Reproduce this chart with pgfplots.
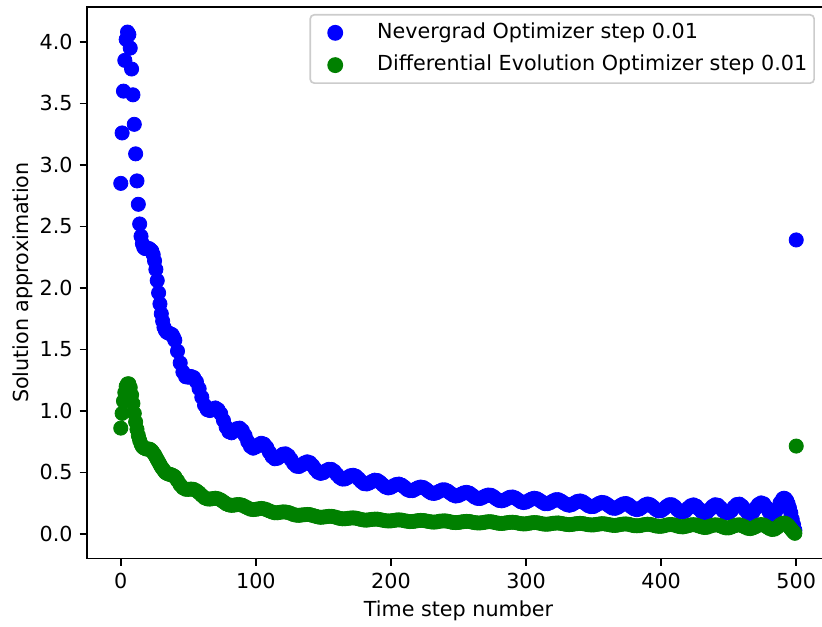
\documentclass[border=0pt]{standalone}
\usepackage{fontspec}
\setmainfont{DejaVu Sans}
\usepackage{pgfplots}
\usepackage{pgfplotstable}
\pgfplotsset{compat=1.18}
\definecolor{mplblue}{RGB}{0,0,255}
\definecolor{mplgreen}{RGB}{0,128,0}
\definecolor{legframe}{RGB}{204,204,204}
\newcommand\mf{\fontsize{10.35pt}{12.4pt}\selectfont}

\pgfplotstableread[row sep=\\]{
t y\\
0 2.85\\ 1 3.26\\ 2 3.60\\ 3 3.85\\ 4 4.02\\ 5 4.08\\ 6 4.06\\ 7 3.95\\ 8 3.78\\ 9 3.57\\
10 3.33\\ 11 3.09\\ 12 2.87\\ 13 2.68\\ 14 2.52\\ 15 2.42\\ 16 2.36\\ 17 2.33\\ 18 2.32\\ 19 2.32\\
20 2.32\\ 21 2.32\\ 22 2.31\\ 23 2.30\\ 24 2.27\\ 25 2.22\\ 26 2.15\\ 27 2.06\\ 28 1.96\\ 29 1.87\\
30 1.79\\ 31 1.73\\ 32 1.68\\ 33 1.655\\ 34 1.64\\ 35 1.635\\ 36 1.63\\ 37 1.625\\ 38 1.62\\ 39 1.60\\
40 1.575\\ 42 1.486\\ 44 1.390\\ 46 1.316\\ 48 1.278\\ 50 1.274\\ 52 1.280\\ 54 1.271\\ 56 1.237\\ 58 1.181\\
60 1.111\\ 62 1.047\\ 64 1.010\\ 66 1.003\\ 68 1.015\\ 70 1.024\\ 72 1.010\\ 74 0.977\\ 76 0.923\\ 78 0.868\\
80 0.831\\ 82 0.822\\ 84 0.837\\ 86 0.856\\ 88 0.860\\ 90 0.840\\ 92 0.800\\ 94 0.750\\ 96 0.712\\ 98 0.697\\
100 0.707\\ 102 0.725\\ 104 0.737\\ 106 0.730\\ 108 0.704\\ 110 0.664\\ 112 0.629\\ 114 0.611\\ 116 0.615\\ 118 0.631\\
120 0.648\\ 122 0.651\\ 124 0.636\\ 126 0.605\\ 128 0.572\\ 130 0.551\\ 132 0.548\\ 134 0.560\\ 136 0.577\\ 138 0.586\\
140 0.579\\ 142 0.556\\ 144 0.526\\ 146 0.501\\ 148 0.492\\ 150 0.498\\ 152 0.514\\ 154 0.525\\ 156 0.524\\ 158 0.509\\
160 0.483\\ 162 0.460\\ 164 0.446\\ 166 0.447\\ 168 0.459\\ 170 0.473\\ 172 0.477\\ 174 0.469\\ 176 0.449\\ 178 0.426\\
180 0.409\\ 182 0.406\\ 184 0.414\\ 186 0.427\\ 188 0.437\\ 190 0.434\\ 192 0.419\\ 194 0.399\\ 196 0.381\\ 198 0.374\\
200 0.379\\ 202 0.392\\ 204 0.402\\ 206 0.405\\ 208 0.396\\ 210 0.380\\ 212 0.361\\ 214 0.352\\ 216 0.352\\ 218 0.363\\
220 0.375\\ 222 0.381\\ 224 0.377\\ 226 0.363\\ 228 0.345\\ 230 0.332\\ 232 0.329\\ 234 0.336\\ 236 0.348\\ 238 0.358\\
240 0.358\\ 242 0.348\\ 244 0.331\\ 246 0.316\\ 248 0.308\\ 250 0.312\\ 252 0.323\\ 254 0.334\\ 256 0.338\\ 258 0.332\\
260 0.316\\ 262 0.299\\ 264 0.289\\ 266 0.288\\ 268 0.297\\ 270 0.309\\ 272 0.316\\ 274 0.314\\ 276 0.302\\ 278 0.285\\
280 0.272\\ 282 0.269\\ 284 0.275\\ 286 0.287\\ 288 0.298\\ 290 0.300\\ 292 0.292\\ 294 0.277\\ 296 0.262\\ 298 0.255\\
300 0.259\\ 302 0.271\\ 304 0.283\\ 306 0.290\\ 308 0.286\\ 310 0.273\\ 312 0.258\\ 314 0.246\\ 316 0.246\\ 318 0.255\\
320 0.268\\ 322 0.278\\ 324 0.278\\ 326 0.267\\ 328 0.252\\ 330 0.239\\ 332 0.233\\ 334 0.239\\ 336 0.252\\ 338 0.264\\
340 0.268\\ 342 0.261\\ 344 0.246\\ 346 0.230\\ 348 0.222\\ 350 0.223\\ 352 0.235\\ 354 0.248\\ 356 0.256\\ 358 0.253\\
360 0.240\\ 362 0.224\\ 364 0.210\\ 366 0.208\\ 368 0.217\\ 370 0.232\\ 372 0.244\\ 374 0.247\\ 376 0.237\\ 378 0.219\\
380 0.204\\ 382 0.197\\ 384 0.203\\ 386 0.218\\ 388 0.235\\ 390 0.243\\ 392 0.237\\ 394 0.220\\ 396 0.200\\ 398 0.187\\
400 0.189\\ 402 0.204\\ 404 0.223\\ 406 0.237\\ 408 0.237\\ 410 0.222\\ 412 0.198\\ 414 0.181\\ 416 0.176\\ 418 0.188\\
420 0.210\\ 422 0.229\\ 424 0.236\\ 426 0.226\\ 428 0.203\\ 430 0.181\\ 432 0.170\\ 434 0.177\\ 436 0.199\\ 438 0.223\\
440 0.237\\ 442 0.233\\ 444 0.212\\ 446 0.187\\ 448 0.170\\ 450 0.171\\ 452 0.190\\ 454 0.218\\ 456 0.239\\ 458 0.242\\
460 0.225\\ 462 0.198\\ 464 0.173\\ 466 0.165\\ 468 0.179\\ 470 0.210\\ 472 0.239\\ 474 0.252\\ 476 0.244\\ 478 0.214\\
480 0.178\\ 482 0.157\\ 484 0.166\\ 486 0.203\\ 488 0.252\\ 490 0.285\\ 491 0.290\\ 492 0.285\\ 493 0.270\\ 494 0.245\\
495 0.210\\ 496 0.170\\ 497 0.120\\ 498 0.075\\ 499 0.030\\ 500 2.39\\
}\bluedata

\pgfplotstableread[row sep=\\]{
t y\\
0 0.86\\ 1 0.98\\ 2 1.08\\ 3 1.15\\ 4 1.20\\ 5 1.22\\ 6 1.22\\ 7 1.19\\ 8 1.13\\ 9 1.06\\
10 0.98\\ 11 0.91\\ 12 0.85\\ 13 0.80\\ 14 0.76\\ 15 0.73\\ 16 0.71\\ 17 0.70\\ 18 0.695\\ 19 0.69\\
20 0.69\\ 21 0.69\\ 22 0.685\\ 23 0.675\\ 24 0.66\\ 25 0.645\\ 26 0.625\\ 27 0.605\\ 28 0.585\\ 29 0.565\\
30 0.545\\ 31 0.53\\ 32 0.515\\ 33 0.50\\ 34 0.493\\ 35 0.488\\ 36 0.485\\ 37 0.482\\ 38 0.478\\ 39 0.472\\
40 0.465\\ 42 0.433\\ 44 0.399\\ 46 0.375\\ 48 0.363\\ 50 0.362\\ 52 0.365\\ 54 0.362\\ 56 0.351\\ 58 0.334\\
60 0.313\\ 62 0.294\\ 64 0.285\\ 66 0.283\\ 68 0.287\\ 70 0.290\\ 72 0.286\\ 74 0.276\\ 76 0.261\\ 78 0.245\\
80 0.236\\ 82 0.232\\ 84 0.234\\ 86 0.238\\ 88 0.238\\ 90 0.233\\ 92 0.222\\ 94 0.211\\ 96 0.201\\ 98 0.198\\
100 0.200\\ 102 0.204\\ 104 0.207\\ 106 0.204\\ 108 0.197\\ 110 0.187\\ 112 0.178\\ 114 0.172\\ 116 0.172\\ 118 0.176\\
120 0.179\\ 122 0.178\\ 124 0.174\\ 126 0.166\\ 128 0.157\\ 130 0.152\\ 132 0.151\\ 134 0.154\\ 136 0.156\\ 138 0.158\\
140 0.157\\ 142 0.150\\ 144 0.144\\ 146 0.138\\ 148 0.135\\ 150 0.137\\ 152 0.140\\ 154 0.143\\ 156 0.143\\ 158 0.139\\
160 0.133\\ 162 0.126\\ 164 0.123\\ 166 0.123\\ 168 0.126\\ 170 0.129\\ 172 0.130\\ 174 0.128\\ 176 0.123\\ 178 0.117\\
180 0.113\\ 182 0.112\\ 184 0.115\\ 186 0.118\\ 188 0.120\\ 190 0.120\\ 192 0.116\\ 194 0.111\\ 196 0.107\\ 198 0.105\\
200 0.106\\ 202 0.109\\ 204 0.113\\ 206 0.114\\ 208 0.112\\ 210 0.107\\ 212 0.103\\ 214 0.100\\ 216 0.101\\ 218 0.104\\
220 0.108\\ 222 0.110\\ 224 0.109\\ 226 0.105\\ 228 0.101\\ 230 0.097\\ 232 0.096\\ 234 0.098\\ 236 0.103\\ 238 0.105\\
240 0.106\\ 242 0.103\\ 244 0.098\\ 246 0.093\\ 248 0.092\\ 250 0.093\\ 252 0.097\\ 254 0.100\\ 256 0.102\\ 258 0.101\\
260 0.096\\ 262 0.092\\ 264 0.089\\ 266 0.089\\ 268 0.092\\ 270 0.096\\ 272 0.099\\ 274 0.099\\ 276 0.095\\ 278 0.090\\
280 0.086\\ 282 0.085\\ 284 0.087\\ 286 0.091\\ 288 0.094\\ 290 0.095\\ 292 0.093\\ 294 0.088\\ 296 0.084\\ 298 0.081\\
300 0.082\\ 302 0.086\\ 304 0.090\\ 306 0.092\\ 308 0.091\\ 310 0.087\\ 312 0.082\\ 314 0.079\\ 316 0.079\\ 318 0.082\\
320 0.086\\ 322 0.088\\ 324 0.089\\ 326 0.085\\ 328 0.081\\ 330 0.077\\ 332 0.075\\ 334 0.077\\ 336 0.081\\ 338 0.084\\
340 0.086\\ 342 0.084\\ 344 0.079\\ 346 0.075\\ 348 0.073\\ 350 0.073\\ 352 0.077\\ 354 0.080\\ 356 0.083\\ 358 0.082\\
360 0.078\\ 362 0.074\\ 364 0.070\\ 366 0.069\\ 368 0.072\\ 370 0.077\\ 372 0.080\\ 374 0.081\\ 376 0.078\\ 378 0.072\\
380 0.067\\ 382 0.066\\ 384 0.067\\ 386 0.072\\ 388 0.076\\ 390 0.079\\ 392 0.077\\ 394 0.071\\ 396 0.065\\ 398 0.062\\
400 0.062\\ 402 0.066\\ 404 0.072\\ 406 0.076\\ 408 0.076\\ 410 0.071\\ 412 0.064\\ 414 0.059\\ 416 0.057\\ 418 0.061\\
420 0.067\\ 422 0.073\\ 424 0.075\\ 426 0.072\\ 428 0.064\\ 430 0.057\\ 432 0.052\\ 434 0.054\\ 436 0.062\\ 438 0.069\\
440 0.074\\ 442 0.072\\ 444 0.065\\ 446 0.055\\ 448 0.049\\ 450 0.049\\ 452 0.056\\ 454 0.065\\ 456 0.072\\ 458 0.074\\
460 0.067\\ 462 0.056\\ 464 0.046\\ 466 0.043\\ 468 0.049\\ 470 0.059\\ 472 0.071\\ 474 0.076\\ 476 0.072\\ 478 0.059\\
480 0.045\\ 482 0.036\\ 484 0.039\\ 486 0.054\\ 488 0.074\\ 490 0.086\\ 491 0.088\\ 492 0.085\\ 493 0.078\\ 494 0.068\\
495 0.055\\ 496 0.042\\ 497 0.028\\ 498 0.015\\ 499 0.005\\ 500 0.714\\
}\greendata

\begin{document}
\begin{tikzpicture}
\begin{axis}[
  at={(0pt,0pt)}, anchor=south west,
  scale only axis, width=371.5pt, height=275.75pt,
  xmin=-25, xmax=525, ymin=-0.2, ymax=4.284,
  axis line style={line width=0.83pt},
  tick align=outside, major tick length=3.64pt,
  every tick/.style={black, line width=0.83pt},
  xtick={0,100,200,300,400,500},
  ytick={0,0.5,1,1.5,2,2.5,3,3.5,4},
  xtick pos=left, ytick pos=left,
  /pgf/number format/assume math mode=true,
  yticklabel style={/pgf/number format/.cd, fixed, fixed zerofill, precision=1},
  tick label style={font=\mf},
  xlabel={Time step number},
  ylabel={Solution approximation},
  label style={font=\mf},
  xlabel style={at={(axis description cs:0.5,-0.1043)}, anchor=base},
  ylabel style={at={(axis description cs:-0.0794,0.5)}, anchor=base},
  legend style={at={(axis description cs:0.9798,0.9873)}, anchor=north east,
    draw=legframe, line width=0.83pt, rounded corners=2pt, fill=white,
    font=\mf, inner xsep=3.5pt, inner ysep=4pt, row sep=6.15pt,
    nodes={inner sep=0pt, text height=0.76em, text depth=0.24em},
    cells={anchor=west}},
  legend image code/.code={%
    \path[draw=none] (0pt,0pt) -- (30pt,0pt);
    \path[#1, draw=none, only marks, mark repeat=2, mark phase=2] plot coordinates {(0pt,0pt) (9pt,0pt) (18pt,0pt)};},
]
\addplot[only marks, mark=*, mark size=3.55pt, color=mplblue, mark options={draw=none, fill=mplblue}] table[x=t, y=y] {\bluedata};
\addlegendentry{Nevergrad Optimizer step 0.01}
\addplot[only marks, mark=*, mark size=3.55pt, color=mplgreen, mark options={draw=none, fill=mplgreen}] table[x=t, y=y] {\greendata};
\addlegendentry{Differential Evolution Optimizer step 0.01}
\end{axis}
\pgfresetboundingbox
\path[use as bounding box] (-43.5pt,-33.75pt) rectangle (367.5pt,279.25pt);
\end{tikzpicture}
\end{document}
